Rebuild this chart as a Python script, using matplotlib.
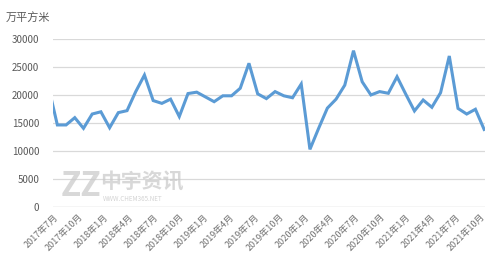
import numpy as np
import matplotlib.pyplot as plt

plt.rcParams['font.family'] = ['Noto Sans CJK SC', 'DejaVu Sans']

# 月度数据（万平方米），读自原图
values = [21300, 14600, 14600, 15900, 14000, 16550, 16950, 14100, 16800, 17150,
          20550, 23500, 18950, 18450, 19200, 16100, 20200, 20450, 19600, 18750,
          19800, 19800, 21150, 25600, 20150, 19300, 20550, 19800, 19450, 21900,
          10250, 14000, 17600, 19200, 21700, 27850, 22300, 19950, 20550, 20250,
          23200, 20100, 17100, 19050, 17750, 20350, 26900, 17550, 16550, 17400,
          13800]
tick_labels = ['2017年7月', '2017年10月', '2018年1月', '2018年4月', '2018年7月',
               '2018年10月', '2019年1月', '2019年4月', '2019年7月', '2019年10月',
               '2020年1月', '2020年4月', '2020年7月', '2020年10月', '2021年1月',
               '2021年4月', '2021年7月', '2021年10月']
y_ticks = [0, 5000, 10000, 15000, 20000, 25000, 30000]

x = np.arange(len(values))
grey = '#595959'

fig = plt.figure(figsize=(5, 2.7), dpi=100)
ax = fig.add_axes([0.106, 0.234, 0.864, 0.623])

ax.plot(x, values, color='#5B9BD5', lw=2.2, solid_joinstyle='miter', zorder=3)

ax.set_xlim(0.54, 50.1)
ax.set_ylim(0, 30000)
ax.set_yticks(y_ticks)
ax.set_yticklabels([str(v) for v in y_ticks], fontsize=7, color=grey)
ax.yaxis.grid(True, color='#D9D9D9', lw=0.9)
ax.set_axisbelow(True)

ax.set_xticks(np.linspace(0.5, 49.6, len(tick_labels)))
ax.set_xticklabels(tick_labels, rotation=45, ha='right', rotation_mode='anchor',
                   fontsize=6.5, color='#707070')
ax.tick_params(axis='both', length=0)
ax.tick_params(axis='x', pad=4)
ax.tick_params(axis='y', pad=10)
for s in ax.spines.values():
    s.set_visible(False)
ax.axhline(0, color='#D9D9D9', lw=0.9)

fig.text(0.012, 0.935, '万平方米', fontsize=8, color=grey, va='center')

# 水印
fig.text(0.122, 0.31, 'ZZ', fontsize=24, fontweight='bold', style='italic',
         color='#C8C8C8', alpha=0.7, va='center')
fig.text(0.2, 0.325, '中宇资讯', fontsize=15, fontweight='bold',
         color='#C8C8C8', alpha=0.7, va='center')
fig.text(0.205, 0.262, 'WWW.CHEM365.NET', fontsize=4.5, color='#C8C8C8',
         alpha=0.8, va='center')

fig.savefig('out.png', dpi=100)
